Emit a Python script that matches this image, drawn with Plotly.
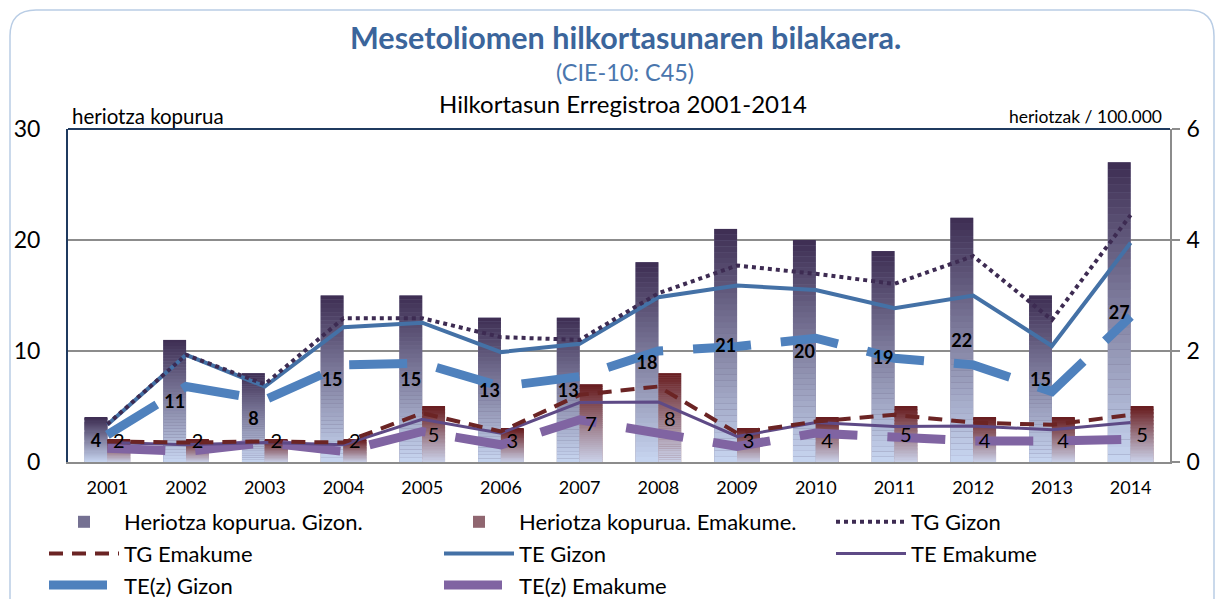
import plotly.graph_objects as go

# ---------------- data ----------------
years = [str(y) for y in range(2001, 2015)]
deaths_men = [4, 11, 8, 15, 15, 13, 13, 18, 21, 20, 19, 22, 15, 27]
deaths_women = [2, 2, 2, 2, 5, 3, 7, 8, 3, 4, 5, 4, 4, 5]
tg_men = [0.68, 1.93, 1.40, 2.59, 2.59, 2.25, 2.20, 3.04, 3.54, 3.39, 3.21, 3.71, 2.56, 4.45]
te_men = [0.67, 1.93, 1.36, 2.43, 2.51, 1.98, 2.13, 2.97, 3.18, 3.10, 2.77, 3.00, 2.09, 3.95]
tez_men = [0.49, 1.36, 1.12, 1.75, 1.78, 1.36, 1.54, 2.00, 2.08, 2.23, 1.87, 1.75, 1.27, 2.62]
tg_women = [0.37, 0.35, 0.37, 0.35, 0.88, 0.55, 1.21, 1.36, 0.52, 0.73, 0.85, 0.71, 0.67, 0.85]
te_women = [0.35, 0.31, 0.35, 0.31, 0.77, 0.52, 1.07, 1.08, 0.46, 0.71, 0.64, 0.65, 0.58, 0.71]
tez_women = [0.25, 0.19, 0.35, 0.19, 0.55, 0.31, 0.76, 0.53, 0.28, 0.52, 0.45, 0.38, 0.38, 0.41]

names = ["Heriotza kopurua. Gizon.", "Heriotza kopurua. Emakume.", "TG Gizon", "TG Emakume",
         "TE Gizon", "TE Emakume", "TE(z) Gizon", "TE(z) Emakume"]

FONT = "Lato"
W, H = 1223, 599
L, R, T, B = 68, 53, 129, 137
PW, PH = W - L - R, H - T - B


def px2paper(x, y):
    return (x - L) / PW, (H - B - y) / PH


def lerp(c1, c2, t):
    return "rgb(%d,%d,%d)" % tuple(round(a + (b - a) * t) for a, b in zip(c1, c2))


MEN_TOP, MEN_BOT = (61, 45, 82), (200, 214, 241)
WOM_TOP, WOM_BOT = (104, 28, 30), (204, 212, 236)
MEN_MID = lerp(MEN_BOT, MEN_TOP, 0.6)
WOM_MID = lerp(WOM_BOT, WOM_TOP, 0.6)

fig = go.Figure()

# main bars (carry legend)
fig.add_trace(go.Bar(x=years, y=deaths_men, name=names[0], offsetgroup="m",
                     marker=dict(color=MEN_MID, line_width=0), legendrank=1, legend="legend",
                     yaxis="y"))
fig.add_trace(go.Bar(x=years, y=deaths_women, name=names[1], offsetgroup="w",
                     marker=dict(color=WOM_MID, line_width=0), legendrank=2, legend="legend2",
                     yaxis="y"))

# gradient slices on top of each bar
N = 40
for vals, og, top, bot in [(deaths_men, "m", MEN_TOP, MEN_BOT), (deaths_women, "w", WOM_TOP, WOM_BOT)]:
    for i in range(N):
        t = (i + 0.5) / N
        fig.add_trace(go.Bar(x=years, y=[v / N for v in vals], base=[v * i / N for v in vals],
                             offsetgroup=og, marker=dict(color=lerp(bot, top, t), line_width=0),
                             showlegend=False, hoverinfo="skip", yaxis="y"))

# rate lines (right axis): values, name, line style, legend rank, legend column
lines = [
    (tez_men, names[6], dict(color="#4f81bd", width=9, dash="58px,30px"), 7, "legend"),
    (tez_women, names[7], dict(color="#8064a2", width=9, dash="58px,30px"), 8, "legend2"),
    (te_women, names[5], dict(color="#5e4a86", width=3), 6, "legend3"),
    (tg_women, names[3], dict(color="#6b2424", width=4, dash="14px,9px"), 4, "legend"),
    (te_men, names[4], dict(color="#4471a6", width=4), 5, "legend2"),
    (tg_men, names[2], dict(color="#3d2b52", width=4, dash="dot"), 3, "legend3"),
]
for vals, nm, ln, rk, lg in lines:
    fig.add_trace(go.Scatter(x=years, y=vals, name=nm, mode="lines", line=ln,
                             legendrank=rk, legend=lg, yaxis="y2"))

# data labels: invisible bars on an overlay axis so the text sits above the lines
fig.add_trace(go.Bar(x=years, y=deaths_men, offsetgroup="m", yaxis="y3",
                     text=[str(v) for v in deaths_men], textposition="inside",
                     insidetextanchor="middle", constraintext="none",
                     textfont=dict(family=FONT, size=18, color="black", weight="bold"),
                     marker=dict(color="rgba(0,0,0,0)", line_width=0),
                     showlegend=False, hoverinfo="skip"))
fig.add_trace(go.Bar(x=years, y=[max(v, 4) for v in deaths_women], offsetgroup="w", yaxis="y3",
                     text=[str(v) for v in deaths_women], textposition="inside",
                     insidetextanchor="middle", constraintext="none",
                     textfont=dict(family=FONT, size=20, color="black"),
                     marker=dict(color="rgba(0,0,0,0)", line_width=0),
                     showlegend=False, hoverinfo="skip"))

# border (rounded frame)
x0, x1, y0, y1, r = 10, 1214, 10, 620, 26
p = lambda x, y: "%f,%f" % px2paper(x, y)
frame = ("M " + p(x0, y1) + " L " + p(x0, y0 + r) + " Q " + p(x0, y0) + " " + p(x0 + r, y0) +
         " L " + p(x1 - r, y0) + " Q " + p(x1, y0) + " " + p(x1, y0 + r) + " L " + p(x1, y1))

shapes = [
    dict(type="path", path=frame, xref="paper", yref="paper",
         line=dict(color="#b9cde5", width=1.5), layer="below"),
    dict(type="line", xref="paper", yref="paper", x0=0, x1=1, y0=1, y1=1,
         line=dict(color="#1f3a5f", width=2)),
]

annotations = [
    dict(text="<b>Mesetoliomen hilkortasunaren bilakaera.</b>", x=px2paper(625, 0)[0], y=px2paper(0, 37)[1],
         font=dict(family=FONT, size=30.5, color="#3b659b")),
    dict(text="(CIE-10: C45)", x=px2paper(625, 0)[0], y=px2paper(0, 72)[1],
         font=dict(family=FONT, size=23.4, color="#4a76ad")),
    dict(text="Hilkortasun Erregistroa 2001-2014", x=px2paper(623, 0)[0], y=px2paper(0, 103)[1],
         font=dict(family=FONT, size=24, color="black")),
    dict(text="heriotza kopurua", x=px2paper(70, 0)[0], y=px2paper(0, 116)[1], xanchor="left",
         font=dict(family=FONT, size=20.5, color="black")),
    dict(text="heriotzak / 100.000", x=px2paper(1164, 0)[0], y=px2paper(0, 117)[1], xanchor="right",
         font=dict(family=FONT, size=17.5, color="black")),
]
for a in annotations:
    a.update(xref="paper", yref="paper", showarrow=False, yanchor="middle")
    a.setdefault("xanchor", "center")

# one legend per column; each is horizontal but so wide per entry that it stacks one per row
leg_common = dict(orientation="h", xref="container", yref="container", xanchor="left",
                  yanchor="top", y=1 - 501 / H, itemwidth=70, font=dict(family=FONT, size=22),
                  bgcolor="rgba(0,0,0,0)", traceorder="normal",
                  entrywidth=600, entrywidthmode="pixels")

fig.update_layout(
    width=W, height=H,
    margin=dict(l=L, r=R, t=T, b=B, pad=0, autoexpand=False),
    paper_bgcolor="white", plot_bgcolor="white",
    barmode="group", bargap=0.42, bargroupgap=0,
    font=dict(family=FONT, color="black"),
    xaxis=dict(type="category", showgrid=False, showline=True, linecolor="#8c8c8c", linewidth=2,
               ticks="", tickfont=dict(size=18), ticklabelstandoff=8, zeroline=False,
               automargin=False),
    yaxis=dict(range=[0, 30], dtick=10, showgrid=True, gridcolor="#8c8c8c", gridwidth=1.5,
               showline=True, linecolor="#1f3a5f", linewidth=2, ticks="", zeroline=False,
               tickfont=dict(size=23), ticklabelstandoff=21, automargin=False),
    yaxis2=dict(range=[0, 6], dtick=2, overlaying="y", side="right", showgrid=False,
                showline=True, linecolor="#8c8c8c", linewidth=2, ticks="outside", ticklen=8,
                tickcolor="#8c8c8c", tickwidth=2, zeroline=False,
                tickfont=dict(size=23), ticklabelstandoff=2, automargin=False),
    yaxis3=dict(range=[0, 30], overlaying="y", visible=False),
    legend=dict(leg_common, x=44 / W),
    legend2=dict(leg_common, x=439 / W),
    legend3=dict(leg_common, x=831 / W),
    shapes=shapes,
    annotations=annotations,
    showlegend=True,
)

fig.write_html("out.html", config={"displayModeBar": False},
               post_script="document.body.style.margin='0px';")
